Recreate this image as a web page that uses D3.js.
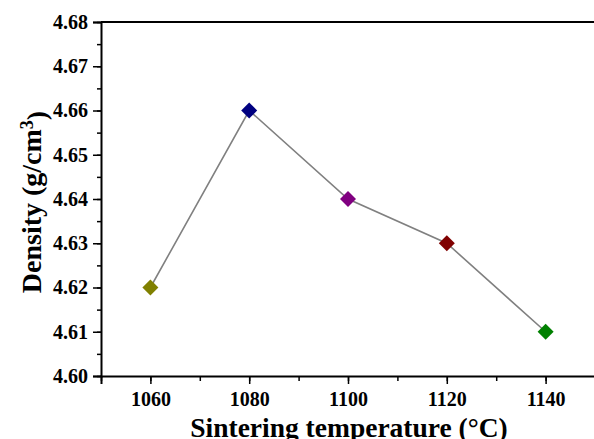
<!DOCTYPE html>
<html>
<head>
<meta charset="utf-8">
<script src="https://cdn.jsdelivr.net/npm/d3@7"></script>
<style>
  html, body { margin: 0; padding: 0; background: #fff; }
  svg { display: block; }
  .tick text { font-family: "Liberation Serif", "Times New Roman", serif; font-weight: bold; font-size: 20px; fill: #000; }
  .axis-title { font-family: "Liberation Serif", "Times New Roman", serif; font-weight: bold; fill: #000; }
</style>
</head>
<body>
<svg id="chart" width="594" height="439"></svg>
<script>
(function () {
  "use strict";

  const temps   = [1060, 1080, 1100, 1120, 1140];
  const density = [4.62, 4.66, 4.64, 4.63, 4.61];
  const colors  = ["#808000", "#000080", "#800080", "#800000", "#008000"];
  const xTicks  = [1060, 1080, 1100, 1120, 1140];
  const yTicks  = [4.60, 4.61, 4.62, 4.63, 4.64, 4.65, 4.66, 4.67, 4.68];

  const data = temps.map((t, i) => ({ t, d: density[i], c: colors[i] }));

  const margin = { top: 22, left: 101 };
  const W = 494, H = 354;

  const svg = d3.select("#chart");
  const g = svg.append("g").attr("transform", `translate(${margin.left},${margin.top})`);

  const x = d3.scaleLinear().domain([1050, 1150]).range([0, W]);
  const y = d3.scaleLinear().domain([4.60, 4.68]).range([H, 0]);

  // minor ticks
  g.append("g")
    .attr("transform", `translate(0,${H})`)
    .call(d3.axisBottom(x).tickValues(d3.range(1050, 1151, 10)).tickSize(5).tickFormat(""))
    .call(a => a.select(".domain").remove())
    .selectAll("line").attr("stroke", "#000").attr("stroke-width", 1.5);
  g.append("g")
    .call(d3.axisLeft(y).tickValues(d3.range(0, 17).map(i => 4.60 + i * 0.005)).tickSize(4).tickFormat(""))
    .call(a => a.select(".domain").remove())
    .selectAll("line").attr("stroke", "#000").attr("stroke-width", 1.5);

  // major axes
  const xAxis = g.append("g")
    .attr("transform", `translate(0,${H})`)
    .call(d3.axisBottom(x).tickValues(xTicks).tickSize(8).tickPadding(8).tickFormat(d3.format("d")));
  const yAxis = g.append("g")
    .call(d3.axisLeft(y).tickValues(yTicks).tickSize(8).tickPadding(5).tickFormat(d3.format(".2f")));
  [xAxis, yAxis].forEach(a => {
    a.select(".domain").attr("stroke", "#000").attr("stroke-width", 2);
    a.selectAll(".tick line").attr("stroke", "#000").attr("stroke-width", 1.5);
  });
  xAxis.selectAll(".tick text").attr("dy", "0.71em");

  // top frame line
  g.append("line")
    .attr("x1", 0).attr("x2", W).attr("y1", 0).attr("y2", 0)
    .attr("stroke", "#000").attr("stroke-width", 2);

  // connecting line
  g.append("path")
    .datum(data)
    .attr("fill", "none")
    .attr("stroke", "#808080")
    .attr("stroke-width", 1.6)
    .attr("d", d3.line().x(d => x(d.t)).y(d => y(d.d)));

  // diamond markers
  const sym = d3.symbol().type(d3.symbolSquare).size(128);
  g.selectAll(".pt")
    .data(data)
    .join("path")
    .attr("class", "pt")
    .attr("transform", d => `translate(${x(d.t)},${y(d.d)}) rotate(45)`)
    .attr("d", sym)
    .attr("fill", d => d.c);

  // axis titles
  svg.append("text").attr("class", "axis-title")
    .attr("x", 349).attr("y", 437)
    .attr("text-anchor", "middle")
    .style("font-size", "27.5px")
    .text("Sintering temperature (°C)");

  const yt = svg.append("text").attr("class", "axis-title")
    .attr("transform", `translate(41,202) rotate(-90)`)
    .attr("text-anchor", "middle")
    .style("font-size", "28px");
  yt.append("tspan").text("Density (g/cm");
  yt.append("tspan").attr("dy", "-0.45em").style("font-size", "18px").text("3");
  yt.append("tspan").attr("dy", "0.45em").text(")");
})();
</script>
</body>
</html>
